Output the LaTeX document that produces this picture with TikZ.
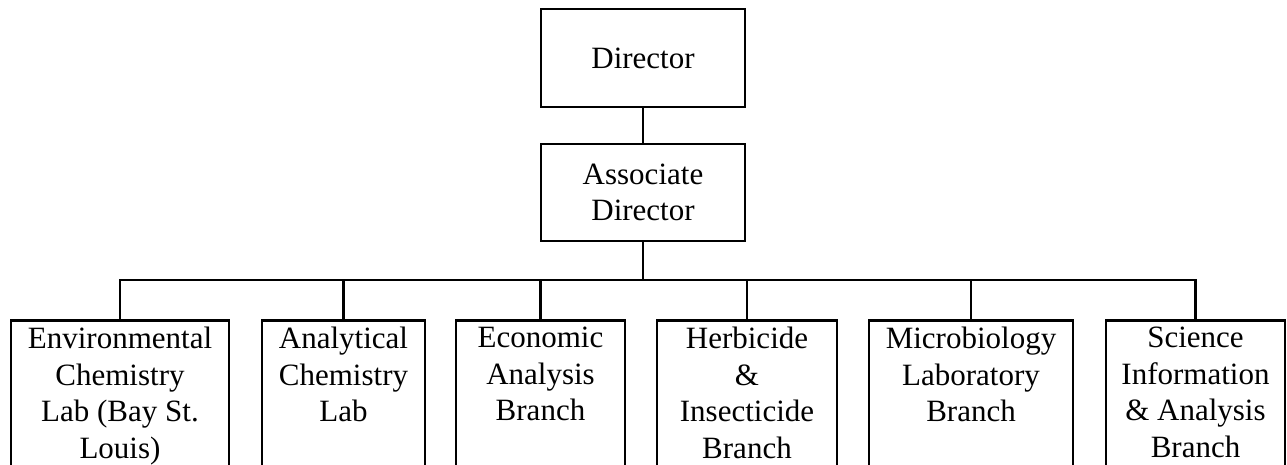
\documentclass[tikz,border=0pt]{standalone}
\usepackage{fontspec}
\setmainfont{Liberation Serif}
\begin{document}
\begin{tikzpicture}[x=1pt,y=1pt,
  line width=2.9pt,
  topbox/.style={draw, minimum width=204pt, align=center, inner sep=0pt,
    font=\fontsize{31}{36.5}\selectfont},
  unitbox/.style={draw, anchor=north, minimum height=200pt, inner sep=0pt},
  unittext/.style={anchor=north, align=center, inner sep=0pt,
    font=\fontsize{31}{36.4}\selectfont, yshift=-7pt},
  link/.style={draw, line width=2.9pt}]
\useasboundingbox (0,0) rectangle (1287,-464);
\clip (0,0) rectangle (1287,-464);

\node[topbox, minimum height=98pt] (dir) at (643,-58) {Director};
\node[topbox, minimum height=97pt] (assoc) at (643,-192.5) {Associate\\Director};
\coordinate (bus) at (643,-280);

\node[unitbox, minimum width=218pt] (u1) at (120,-319) {};
\node[unitbox, minimum width=163pt] (u2) at (343.5,-319) {};
\node[unitbox, minimum width=169pt] (u3) at (540.5,-319) {};
\node[unitbox, minimum width=180pt] (u4) at (747,-319) {};
\node[unitbox, minimum width=204pt] (u5) at (971,-319) {};
\node[unitbox, minimum width=179pt] (u6) at (1195.5,-319) {};

\node[unittext] (t1) at (u1.north) {Environmental\\Chemistry\\Lab (Bay St.\\Louis)};
\node[unittext] (t2) at (u2.north) {Analytical\\Chemistry\\Lab};
\node[unittext] (t3) at (u3.north) {Economic\\Analysis\\Branch};
\node[unittext] (t4) at (u4.north) {Herbicide\\\&\\Insecticide\\Branch};
\node[unittext] (t5) at (u5.north) {Microbiology\\Laboratory\\Branch};
\node[unittext] (t6) at (u6.north) {Science\\Information\\\& Analysis\\Branch};

\draw[link] (dir.south) -- (assoc.north);
\draw[link] (assoc.south) -- (bus);
\draw[link] (u1.north) |- (u6.north |- bus) -- (u6.north);
\foreach \u in {u2,u3,u4,u5}
  \draw[link] (\u.north) -- (\u.north |- bus);
\end{tikzpicture}
\end{document}
